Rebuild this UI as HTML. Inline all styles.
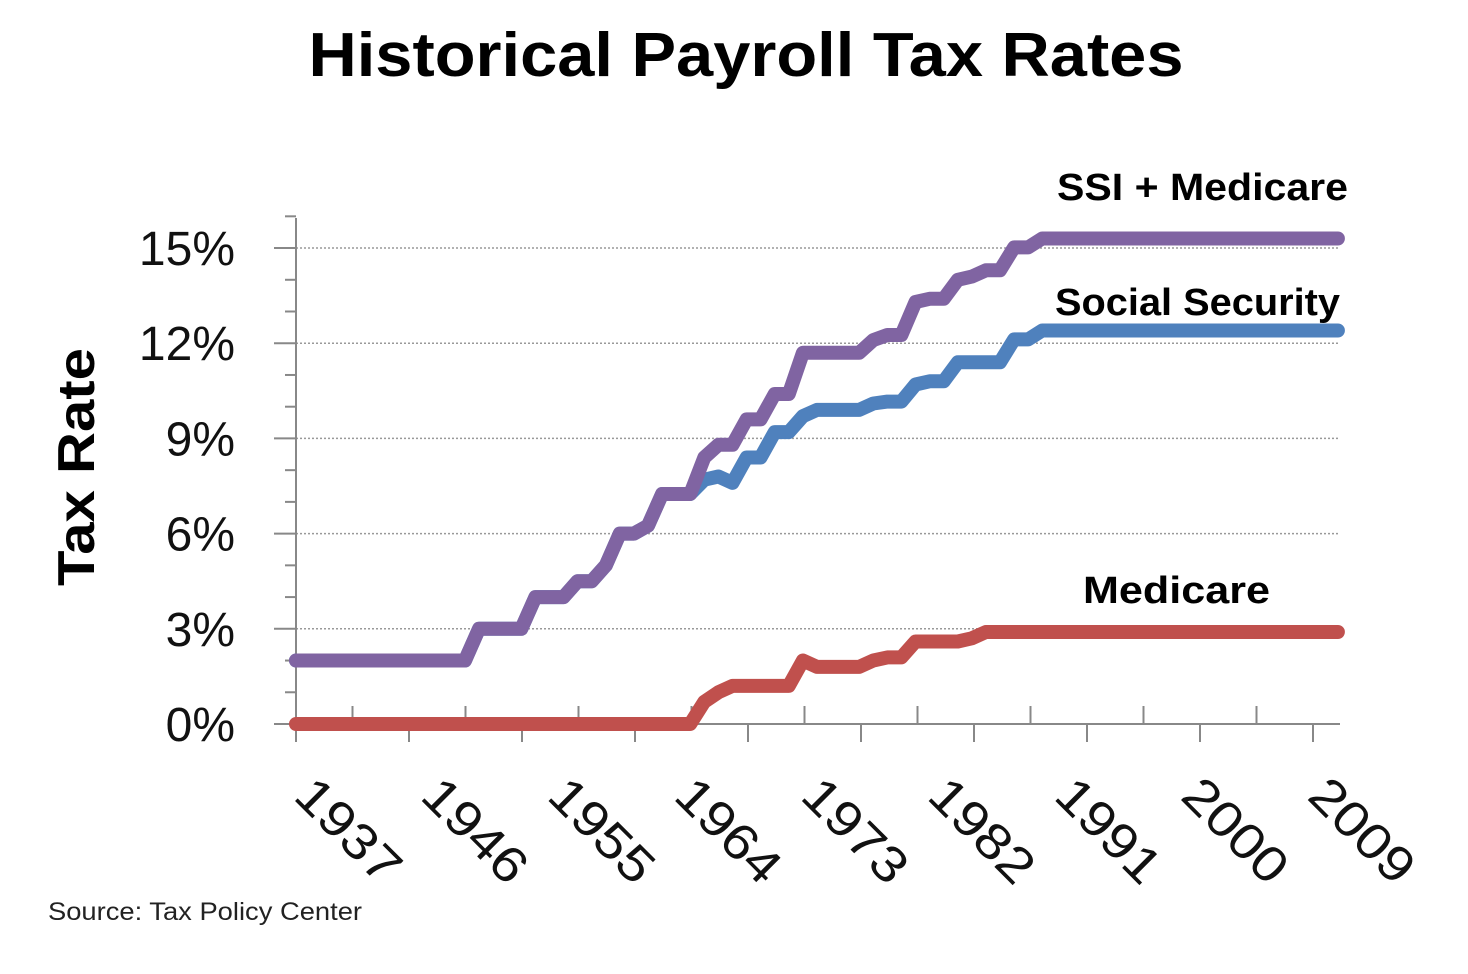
<!DOCTYPE html>
<html><head><meta charset="utf-8"><style>
body{margin:0;background:#fff;}
svg{display:block;font-family:"Liberation Sans",sans-serif;}
</style></head><body>
<svg id="chart" width="1468" height="974" viewBox="0 0 1468 974">
<text x="746" y="76" text-anchor="middle" font-size="62" font-weight="bold" textLength="875" lengthAdjust="spacingAndGlyphs">Historical Payroll Tax Rates</text>
<text transform="translate(94,467) rotate(-90)" text-anchor="middle" font-size="52" font-weight="bold" textLength="238" lengthAdjust="spacingAndGlyphs">Tax Rate</text>
<text x="48" y="920" font-size="25" fill="#222" textLength="314" lengthAdjust="spacingAndGlyphs">Source: Tax Policy Center</text>
<g id="grid"></g><g id="axes"></g><g id="lines"></g>
<text x="1057" y="200" font-size="38" font-weight="bold" textLength="291" lengthAdjust="spacingAndGlyphs">SSI + Medicare</text>
<text x="1055" y="315" font-size="38" font-weight="bold" textLength="285" lengthAdjust="spacingAndGlyphs">Social Security</text>
<text x="1083" y="603" font-size="38" font-weight="bold" textLength="187" lengthAdjust="spacingAndGlyphs">Medicare</text>
</svg>
<script>
const years = [];
for (let y = 1937; y <= 2011; y++) years.push(y);
const combined = [2,2,2,2,2,2,2,2,2,2,2,2,2, 3,3,3,3, 4,4,4, 4.5,4.5, 5, 6,6, 6.25, 7.25,7.25,7.25, 8.4,8.8,8.8, 9.6,9.6, 10.4,10.4, 11.7,11.7,11.7,11.7,11.7, 12.1, 12.26,12.26, 13.3,13.4,13.4, 14.0,14.1, 14.3,14.3, 15.02,15.02, 15.3,15.3,15.3,15.3,15.3,15.3,15.3,15.3,15.3,15.3,15.3,15.3,15.3,15.3,15.3,15.3,15.3,15.3,15.3,15.3,15.3,15.3];
const medicare = [0,0,0,0,0,0,0,0,0,0,0,0,0, 0,0,0,0, 0,0,0, 0,0, 0, 0,0, 0, 0,0,0, 0.7,1.0,1.2, 1.2,1.2, 1.2,1.2, 2.0,1.8,1.8,1.8,1.8, 2.0, 2.1,2.1, 2.6,2.6,2.6, 2.6,2.7, 2.9,2.9, 2.9,2.9, 2.9,2.9,2.9,2.9,2.9,2.9,2.9,2.9,2.9,2.9,2.9,2.9,2.9,2.9,2.9,2.9,2.9,2.9,2.9,2.9,2.9,2.9];
const socialSecurity = [2,2,2,2,2,2,2,2,2,2,2,2,2, 3,3,3,3, 4,4,4, 4.5,4.5, 5, 6,6, 6.25, 7.25,7.25,7.25, 7.7,7.8,7.6, 8.4,8.4, 9.2,9.2, 9.7,9.9,9.9,9.9,9.9, 10.1, 10.16,10.16, 10.7,10.8,10.8, 11.4,11.4, 11.4,11.4, 12.12,12.12, 12.4,12.4,12.4,12.4,12.4,12.4,12.4,12.4,12.4,12.4,12.4,12.4,12.4,12.4,12.4,12.4,12.4,12.4,12.4,12.4,12.4,12.4];
const yTicks = [0,3,6,9,12,15];
const xLabels = [1937,1946,1955,1964,1973,1982,1991,2000,2009];

const NS = "http://www.w3.org/2000/svg";
const x0 = 296, xPer = 14.08, y0 = 724, yPer = 31.73;
const X = yr => x0 + (yr - 1937) * xPer;
const Y = v => y0 - v * yPer;
function mk(tag, attrs, parent) {
  const e = document.createElementNS(NS, tag);
  for (const k in attrs) e.setAttribute(k, attrs[k]);
  document.getElementById(parent).appendChild(e);
  return e;
}
yTicks.forEach(v => {
  if (v > 0) {
    const g = mk('line', {x1: x0, x2: 1340, y1: Y(v), y2: Y(v), stroke: '#999', 'stroke-width': 1.5, 'stroke-dasharray': '2,2'}, 'grid');
    
    
  }
  const t = mk('text', {x: 235, y: Y(v) + 17, 'text-anchor': 'end', 'font-size': 48, fill: '#111'}, 'grid');
  t.textContent = v + '%';
  
  
});
const ya = mk('line', {x1: x0, x2: x0, y1: 218, y2: 742, stroke: '#888', 'stroke-width': 2}, 'axes');


const xa = mk('line', {x1: 275, x2: 1340, y1: y0, y2: y0, stroke: '#888', 'stroke-width': 2}, 'axes');


for (let v = 0; v <= 16; v++) {
  const w = v % 3 === 0 ? 22 : 11;
  const tk = mk('line', {x1: x0 - w, x2: x0, y1: Y(v), y2: Y(v), stroke: '#888', 'stroke-width': 2}, 'axes');
  
  
}
for (let k = 0; k <= 9; k++) {
  const xx = x0 + k * 113;
  const tk = mk('line', {x1: xx, x2: xx, y1: y0, y2: y0 + 18, stroke: '#888', 'stroke-width': 2}, 'axes');
  
  
  if (k < 9) {
    const t2 = mk('line', {x1: xx + 56.5, x2: xx + 56.5, y1: y0 - 18, y2: y0, stroke: '#888', 'stroke-width': 2}, 'axes');
    
    
  }
}
xLabels.forEach(yr => {
  const xx = X(yr);
  const t = mk('text', {transform: `translate(${xx - 4},${y0 + 74}) rotate(45)`, 'font-size': 50, fill: '#111', textLength: 126, lengthAdjust: 'spacingAndGlyphs'}, 'axes');
  t.textContent = yr;
  
  
});
function series(vals, color, name) {
  const d = vals.map((v, i) => (i ? 'L' : 'M') + X(years[i]).toFixed(1) + ',' + Y(v).toFixed(1)).join(' ');
  const p = mk('path', {d: d, fill: 'none', stroke: color, 'stroke-width': 14, 'stroke-linejoin': 'round', 'stroke-linecap': 'round'}, 'lines');
  
  
}
series(socialSecurity, '#4f81bd', 'social-security-line');
series(combined, '#8064a2', 'ssi-medicare-line');
series(medicare, '#c0504d', 'medicare-line');
</script>
</body></html>
